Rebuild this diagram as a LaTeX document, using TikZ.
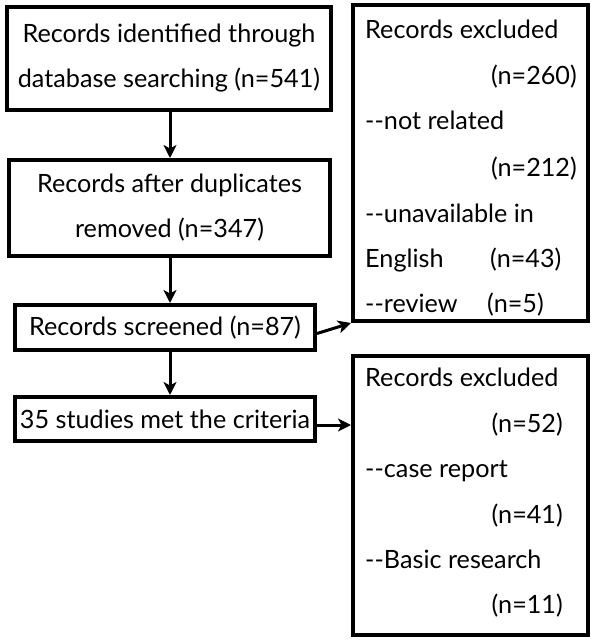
\documentclass[tikz,border=0pt]{standalone}
\usepackage{fontspec}
\setmainfont{Lato}
\usetikzlibrary{arrows.meta}
\begin{document}
\begin{tikzpicture}[x=1pt,y=-1pt,
  box/.style={draw, line width=4pt, inner sep=0pt, align=center,
    font=\fontsize{25.2}{45}\selectfont},
  txt/.style={anchor=base west, inner sep=0pt, font=\fontsize{25.2}{45}\selectfont},
  arr/.style={line width=3pt, -{Stealth[length=13pt,width=13pt,inset=3.5pt]}}]
\useasboundingbox (0,0) rectangle (593,640);
\node[box, minimum width=324pt, minimum height=103pt] (b1) at (169,58.5)
  {Records identified through\\database searching (n=541)};
\node[box, minimum width=321pt, minimum height=96pt] (b2) at (169.5,208)
  {Records after duplicates\\removed (n=347)};
\node[box, minimum width=300pt, minimum height=45pt] (b3) at (165,327.5)
  {Records screened (n=87)};
\node[box, minimum width=300pt, minimum height=44pt] (b4) at (165,419)
  {35 studies met the criteria};
\node[box, minimum width=235pt, minimum height=316pt] (r1) at (470.5,163) {};
\node[box, minimum width=235pt, minimum height=279pt] (r2) at (470.5,495.5) {};
% right box 1 text
\node[txt] (r1a) at (365,38) {Records excluded};
\node[txt, anchor=base east] (r1b) at (577,84) {(n=260)};
\node[txt] (r1c) at (365,129) {-{}-not related};
\node[txt, anchor=base east] (r1d) at (577,176) {(n=212)};
\node[txt] (r1e) at (365,222) {-{}-unavailable in};
\node[txt] (r1f) at (365,267) {English};
\node[txt] (r1g) at (490,267) {(n=43)};
\node[txt] (r1h) at (365,312) {-{}-review};
\node[txt] (r1i) at (487,312) {(n=5)};
% right box 2 text
\node[txt] (r2a) at (365,386) {Records excluded};
\node[txt, anchor=base east] (r2b) at (563,432) {(n=52)};
\node[txt] (r2c) at (365,477) {-{}-case report};
\node[txt, anchor=base east] (r2d) at (563,523) {(n=41)};
\node[txt] (r2e) at (365,568) {-{}-Basic research};
\node[txt, anchor=base east] (r2f) at (563,613) {(n=11)};
% connectors
\coordinate (ax) at (170,0);
\draw[arr] (b1.south -| ax) -- (b2.north -| ax);
\draw[arr] (b2.south -| ax) -- (b3.north -| ax);
\draw[arr] (b3.south -| ax) -- (b4.north -| ax);
\draw[arr] ([yshift=-6pt]b3.east) -- (r1.south west);
\coordinate (c4) at ([yshift=-6pt]b4.east);
\draw[arr] (c4) -- (c4 -| r2.west);
\end{tikzpicture}
\end{document}
